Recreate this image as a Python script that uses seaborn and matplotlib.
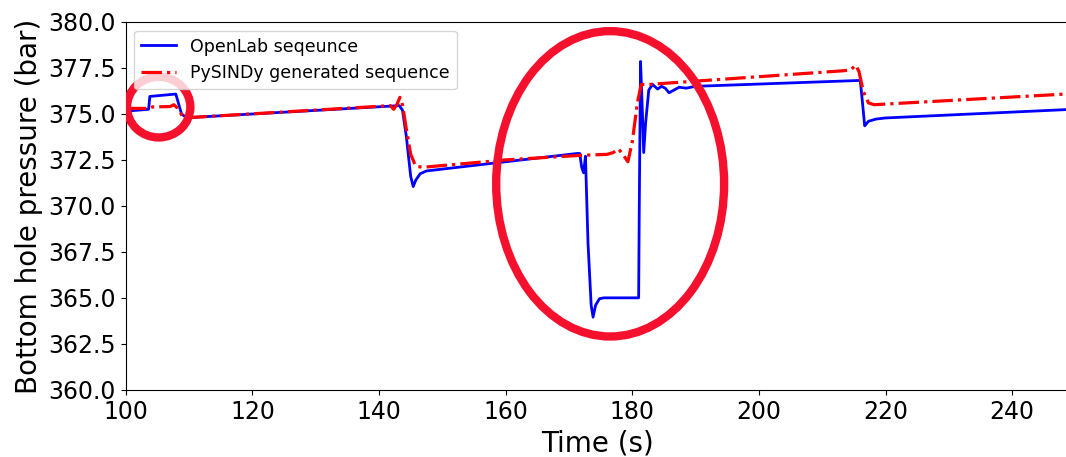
import matplotlib
matplotlib.use("Agg")
import matplotlib.pyplot as plt
from matplotlib.patches import Ellipse
import seaborn as sns
import pandas as pd

# OpenLab sequence (breakpoints)
openlab_t = [100, 103.6, 103.8, 107.9, 108.3, 108.8, 109.5, 110, 143.2, 143.7, 144.3, 145.0,
             145.4, 145.8, 146.5, 147.5, 150, 171.3, 171.7, 172.0, 172.3, 172.6, 173.0,
             173.5, 173.8, 174.2, 174.8, 175.5, 181.0, 181.1, 181.3, 181.6, 181.8, 182.1,
             182.6, 183.2, 184.0, 184.6, 185.2, 185.8, 186.6, 187.4, 188.5, 190, 216.0,
             216.3, 216.7, 217.3, 218.5, 220, 249.5]
openlab_p = [375.15, 375.25, 375.95, 376.08, 375.6, 375.0, 374.82, 374.8, 375.45, 375.2, 373.8, 371.6,
             371.05, 371.4, 371.75, 371.9, 372.0, 372.85, 372.85, 372.1, 371.8, 372.7, 368.0,
             364.6, 363.95, 364.6, 364.95, 365.0, 365.0, 370.0, 377.85, 375.0, 372.9, 374.5,
             376.3, 376.6, 376.35, 376.5, 376.4, 376.15, 376.3, 376.45, 376.4, 376.5, 376.82,
             375.8, 374.35, 374.6, 374.72, 374.78, 375.25]

# PySINDy generated sequence
pysindy_t = [100, 103.8, 104.2, 107.0, 107.6, 108.2, 109.0, 110, 141.8, 142.3, 142.8, 143.3,
             143.7, 144.3, 145.0, 145.8, 147, 160, 172, 176.0, 177.0, 177.8, 178.5, 179.3,
             180.0, 180.8, 181.4, 182.5, 213.5, 214.5, 215.3, 215.8, 216.5, 217.3, 218.2, 249.5]
pysindy_p = [375.3, 375.3, 375.38, 375.4, 375.5, 375.3, 374.85, 374.8, 375.45, 375.25, 375.5, 375.9,
             375.5, 374.2, 372.8, 372.15, 372.1, 372.5, 372.75, 372.8, 372.9, 373.1, 372.8, 372.4,
             373.5, 375.6, 376.6, 376.6, 377.35, 377.4, 377.65, 377.3, 376.2, 375.6, 375.5, 376.1]

openlab = pd.DataFrame({"t": openlab_t, "p": openlab_p})
pysindy = pd.DataFrame({"t": pysindy_t, "p": pysindy_p})

plt.rcParams["font.family"] = ["DejaVu Sans"]

fig = plt.figure(figsize=(10.66, 4.57), dpi=100)
ax = fig.add_axes([0.118, 0.147, 0.885, 0.805])

sns.lineplot(data=openlab, x="t", y="p", color="blue", linewidth=2,
             sort=False, label="OpenLab seqeunce", ax=ax)
sns.lineplot(data=pysindy, x="t", y="p", color="red", linewidth=2.3, linestyle="-.",
             sort=False, label="PySINDy generated sequence", ax=ax)

# highlight circles
ring = "#f5102d"
ax.add_patch(Ellipse((105.2, 375.37), 10.0, 3.3, fill=False, edgecolor=ring, linewidth=6, zorder=5))
ax.add_patch(Ellipse((176.5, 371.2), 36.0, 16.6, fill=False, edgecolor=ring, linewidth=6, zorder=5))

ax.set_xlim(100, 249)
ax.set_ylim(360, 380)
ax.set_yticks([360, 362.5, 365, 367.5, 370, 372.5, 375, 377.5, 380])
ax.set_yticklabels([f"{v:.1f}" for v in ax.get_yticks()])
ax.tick_params(labelsize=17)
ax.set_xlabel("Time (s)", fontsize=20, labelpad=4)
ax.set_ylabel("Bottom hole pressure (bar)", fontsize=20, labelpad=4)
ax.legend(loc="upper left", fontsize=12.5, borderaxespad=0.5)

fig.savefig("out.png", dpi=100)
